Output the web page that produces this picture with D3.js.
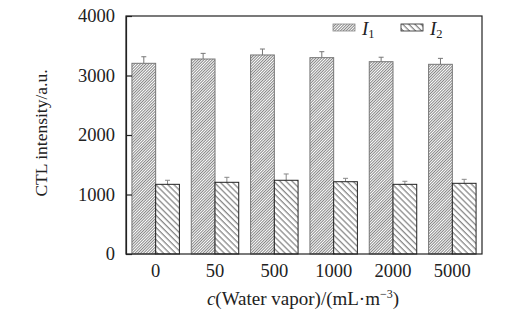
<!DOCTYPE html>
<html><head><meta charset="utf-8">
<script src="https://cdn.jsdelivr.net/npm/d3@7"></script>
<style>
body{margin:0;background:#fff;}
text{font-family:"Liberation Serif","Times New Roman",serif;fill:#222;}
</style></head>
<body><svg id="c" width="531" height="332"></svg>
<script>
const categories = ["0","50","500","1000","2000","5000"];
const seriesNames = ["I1","I2"];
const i1Values = [3205,3277,3345,3300,3232,3188];
const i1Errors = [110,95,100,100,75,100];
const i2Values = [1171,1205,1239,1215,1171,1188];
const i2Errors = [68,84,106,57,51,67];
const yTicks = [0,1000,2000,3000,4000];

const svg = d3.select("#c");
const m = {l:126, r:482, t:16, b:254};

const defs = svg.append("defs");
const p1 = defs.append("pattern").attr("id","h1").attr("patternUnits","userSpaceOnUse")
  .attr("width",2).attr("height",2).attr("patternTransform","rotate(45)");
p1.append("rect").attr("width",2).attr("height",2).attr("fill","#fff");
p1.append("line").attr("x1",0.5).attr("y1",0).attr("x2",0.5).attr("y2",2).attr("stroke","#777").attr("stroke-width",0.9);
const p2 = defs.append("pattern").attr("id","h2").attr("patternUnits","userSpaceOnUse")
  .attr("width",4.3).attr("height",4.3).attr("patternTransform","rotate(-45)");
p2.append("rect").attr("width",4.3).attr("height",4.3).attr("fill","#fff");
p2.append("line").attr("x1",1).attr("y1",0).attr("x2",1).attr("y2",4.3).attr("stroke","#333").attr("stroke-width",0.75);

const x0 = d3.scaleBand().domain(categories).range([m.l,m.r]).paddingInner(0.2).paddingOuter(0.1);
const x1 = d3.scaleBand().domain(seriesNames).range([0,x0.bandwidth()]);
const y = d3.scaleLinear().domain([0,4000]).range([m.b,m.t]);

const series = [
  {name:"I1", vals:i1Values, errs:i1Errors, fill:"url(#h1)", stroke:"#777", ec:"#777"},
  {name:"I2", vals:i2Values, errs:i2Errors, fill:"url(#h2)", stroke:"#222", ec:"#888"}
];

series.forEach(s=>{
  const g = svg.append("g");
  categories.forEach((c,i)=>{
    const xl = x0(c)+x1(s.name), w = x1.bandwidth(), cx = xl + w/2;
    const top = y(s.vals[i]+s.errs[i]);
    g.append("line").attr("x1",cx).attr("x2",cx).attr("y1",y(s.vals[i])).attr("y2",top).attr("stroke",s.ec).attr("stroke-width",1);
    g.append("line").attr("x1",cx-2.5).attr("x2",cx+2.5).attr("y1",top).attr("y2",top).attr("stroke",s.ec).attr("stroke-width",1);
    g.append("rect").attr("x",xl).attr("y",y(s.vals[i])).attr("width",w).attr("height",m.b-y(s.vals[i]))
      .attr("fill",s.fill).attr("stroke",s.stroke).attr("stroke-width",1);
  });
});

// frame
svg.append("rect").attr("x",m.l).attr("y",m.t).attr("width",m.r-m.l).attr("height",m.b-m.t)
  .attr("fill","none").attr("stroke","#222").attr("stroke-width",1.2);

// y axis
const ya = svg.append("g").attr("transform",`translate(${m.l},0)`)
  .call(d3.axisLeft(y).tickValues(yTicks).tickFormat(d3.format("d")).tickSizeInner(-6).tickSizeOuter(0).tickPadding(11));
ya.select(".domain").attr("stroke","#222").attr("stroke-width",1.2);
ya.selectAll(".tick line").attr("stroke","#222").attr("stroke-width",1.2);
ya.selectAll(".tick text").attr("font-size",18.5).attr("font-family","Liberation Serif").attr("fill","#222");

// x axis labels
const xa = svg.append("g").attr("transform",`translate(0,${m.b})`)
  .call(d3.axisBottom(x0).tickSize(0).tickPadding(10));
xa.select(".domain").remove();
xa.selectAll(".tick text").attr("font-size",18.5).attr("font-family","Liberation Serif").attr("fill","#222");

// axis titles
const xt = svg.append("text").attr("x",303).attr("y",305).attr("text-anchor","middle").attr("font-size",19);
xt.append("tspan").attr("font-style","italic").text("c");
xt.append("tspan").text("(Water vapor)/(mL·m");
xt.append("tspan").attr("font-size",12).attr("dy",-7).text("−3");
xt.append("tspan").attr("dy",7).text(")");

svg.append("text").attr("transform","translate(47,133) rotate(-90)").attr("text-anchor","middle")
  .attr("font-size",17.5).text("CTL intensity/a.u.");

// legend
const leg = [{n:"1",fill:"url(#h1)",stroke:"#888",x:333},{n:"2",fill:"url(#h2)",stroke:"#222",x:401}];
leg.forEach(l=>{
  svg.append("rect").attr("x",l.x).attr("y",24).attr("width",22).attr("height",7)
    .attr("fill",l.fill).attr("stroke",l.stroke).attr("stroke-width",0.8);
  const t = svg.append("text").attr("x",l.x+29).attr("y",35).attr("font-size",19);
  t.append("tspan").attr("font-style","italic").text("I");
  t.append("tspan").attr("font-size",12.5).attr("dy",3).text(l.n);
});
</script></body></html>
